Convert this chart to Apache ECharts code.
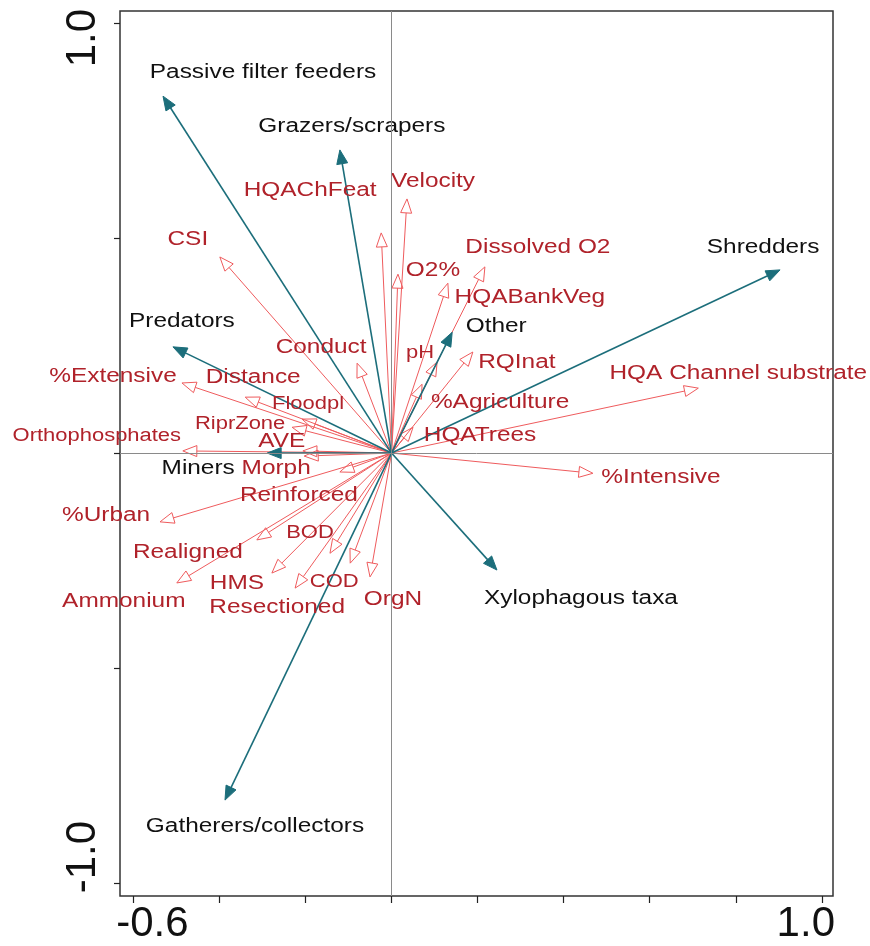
<!DOCTYPE html>
<html>
<head>
<meta charset="utf-8">
<script src="https://cdn.jsdelivr.net/npm/echarts@6/dist/echarts.min.js"></script>
<style>
html,body{margin:0;padding:0;background:#fff;}
#chart{width:870px;height:946px;}
</style>
</head>
<body>
<div id="chart"></div>
<script>
// ---- Data ----
var speciesNames = ['Passive filter feeders','Grazers/scrapers','Shredders','Predators','Other','Miners','Xylophagous taxa','Gatherers/collectors'];
var speciesX = [-0.531, -0.120, 0.903, -0.508, 0.141, -0.289, 0.245, -0.387];
var speciesY = [ 0.830,  0.705, 0.426,  0.247, 0.281,  0.000, -0.272, -0.807];

var envNames = ['Velocity','HQAChFeat','CSI','Dissolved O2','O2%','HQABankVeg','Conduct','pH','RQInat','%Agriculture','HQATrees','HQA Channel substrate','%Intensive','%Extensive','Distance','Floodpl','RiprZone','Orthophosphates','AVE','Morph','Reinforced','%Urban','Realigned','BOD','Ammonium','HMS','COD','Resectioned','OrgN'];
var envX = [0.036, -0.024, -0.399, 0.217, 0.015, 0.131, -0.080, 0.106, 0.189, 0.071, 0.050, 0.713, 0.468, -0.487, -0.340, -0.208, -0.231, -0.485, -0.206, -0.203, -0.120, -0.538, -0.313, -0.143, -0.499, -0.278, -0.096, -0.224, -0.050];
var envY = [0.591, 0.512, 0.456, 0.433, 0.416, 0.395, 0.209, 0.212, 0.235, 0.160, 0.060, 0.151, -0.047, 0.163, 0.130, 0.079, 0.060, 0.005, 0.005, -0.007, -0.044, -0.160, -0.202, -0.233, -0.302, -0.279, -0.256, -0.314, -0.288];

var xTickValues = [-0.6, -0.4, -0.2, 0, 0.2, 0.4, 0.6, 0.8, 1.0];
var yTickValues = [-1.0, -0.5, 0, 0.5, 1.0];
var xLabelValues = [-0.6, 1.0];
var xLabelTexts = ['-0.6', '1.0'];
var yLabelValues = [-1.0, 1.0];
var yLabelTexts = ['-1.0', '1.0'];

// ---- Label placement (pixel offsets from arrow tips) ----
var speciesOffset = {
  'Passive filter feeders':[100,-24], 'Grazers/scrapers':[12,-23], 'Shredders':[-17,-22],
  'Predators':[9,-25], 'Other':[44,-6], 'Miners':[-69,15], 'Xylophagous taxa':[84,28],
  'Gatherers/collectors':[30,26]
};
var envOffset = {
  'Velocity':[26,-17], 'HQAChFeat':[-71,-42], 'CSI':[-32,-17], 'Dissolved O2':[53,-19],
  'O2%':[35,-4], 'HQABankVeg':[82,14], 'Conduct':[-36,-16], 'pH':[-17,-9], 'RQInat':[44,10],
  '%Agriculture':[78,18], 'HQATrees':[67,8], 'HQA Channel substrate':[40,-15], '%Intensive':[68,4],
  '%Extensive':[-69,-6], 'Distance':[8,-20], 'Floodpl':[6,-15], 'RiprZone':[-52,-3],
  'Orthophosphates':[-86,-15], 'AVE':[-21,-9], 'Morph':[-28,12], 'Reinforced':[-41,23],
  '%Urban':[-54,-6], 'Realigned':[-69,13], 'BOD':[-20,-20], 'Ammonium':[-53,19], 'HMS':[-35,10],
  'COD':[-16,19], 'Resectioned':[-18,19], 'OrgN':[23,23]
};
var smallLabels = {'Floodpl':1,'RiprZone':1,'Orthophosphates':1,'BOD':1,'COD':1,'pH':1};

var BLUE = '#1c6e7b';
var RED_LINE = '#ef5b5d';
var RED_TEXT = '#b0222a';
var FONT = '"Liberation Sans", Arial, sans-serif';
var AXIS_FONT = '"Liberation Sans Narrow", "Liberation Sans", Arial, sans-serif';
var AXIS_SIZE = 42;

function pairs(xs, ys) { return xs.map(function (v, i) { return [v, ys[i]]; }); }

function arrowRenderer(filled, color, lw, headLen, headW) {
  return function (params, api) {
    var o = api.coord([0, 0]);
    var t = api.coord([api.value(0), api.value(1)]);
    var dx = t[0] - o[0], dy = t[1] - o[1];
    var len = Math.sqrt(dx * dx + dy * dy) || 1;
    var ux = dx / len, uy = dy / len;
    var bx = t[0] - ux * headLen, by = t[1] - uy * headLen;
    var p1 = [bx - uy * headW, by + ux * headW];
    var p2 = [bx + uy * headW, by - ux * headW];
    return {
      type: 'group',
      children: [
        { type: 'line', shape: { x1: o[0], y1: o[1], x2: filled ? bx + ux * 2 : bx, y2: filled ? by + uy * 2 : by },
          style: { stroke: color, lineWidth: lw } },
        { type: 'polygon', shape: { points: [t, p1, p2] },
          style: { fill: filled ? color : 'rgba(255,255,255,0)', stroke: color, lineWidth: 1 } }
      ]
    };
  };
}

function labelRenderer(names, offsets, color) {
  return function (params, api) {
    var name = names[params.dataIndex];
    var t = api.coord([api.value(0), api.value(1)]);
    var off = offsets[name] || [0, 0];
    var small = smallLabels[name];
    return {
      type: 'text',
      x: t[0] + off[0],
      y: t[1] + off[1],
      scaleX: 1.22,
      style: {
        text: name,
        fill: color,
        font: (small ? '18px ' : '20px ') + FONT,
        align: 'center',
        verticalAlign: 'middle'
      }
    };
  };
}

var chart = echarts.init(document.getElementById('chart'), null, { renderer: 'canvas' });

var option = {
  animation: false,
  backgroundColor: '#ffffff',
  grid: { left: 120, right: 37, top: 11, bottom: 50, show: true, borderColor: '#333', borderWidth: 1.5, backgroundColor: 'transparent' },
  xAxis: {
    type: 'value', min: -0.631, max: 1.026,
    axisLine: { show: false, onZero: false },
    splitLine: { show: false },
    axisTick: { show: true, inside: false, length: 7, customValues: xTickValues, lineStyle: { color: '#222', width: 1.2 } },
    axisLabel: {
      show: true, margin: 7, customValues: xLabelValues,
      fontFamily: AXIS_FONT, fontSize: AXIS_SIZE, color: '#111',
      formatter: function (v) { return Math.abs(v + 0.6) < 1e-6 ? '{a|' + xLabelTexts[0] + '}' : '{b|' + xLabelTexts[1] + '}'; },
      rich: {
        a: { fontFamily: AXIS_FONT, fontSize: AXIS_SIZE, color: '#111', padding: [0, 0, 0, 38] },
        b: { fontFamily: AXIS_FONT, fontSize: AXIS_SIZE, color: '#111', padding: [0, 32, 0, 0] }
      }
    }
  },
  yAxis: {
    type: 'value', min: -1.03, max: 1.028,
    axisLine: { show: false, onZero: false },
    splitLine: { show: false },
    axisTick: { show: true, inside: false, length: 6, customValues: yTickValues, lineStyle: { color: '#222', width: 1.2 } },
    axisLabel: {
      show: true, margin: 16, rotate: 90, customValues: yLabelValues,
      fontFamily: AXIS_FONT, fontSize: AXIS_SIZE, color: '#111',
      formatter: function (v) { return v < 0 ? '{a|' + yLabelTexts[0] + '}' : '{b|' + yLabelTexts[1] + '}'; },
      rich: {
        a: { fontFamily: AXIS_FONT, fontSize: AXIS_SIZE, color: '#111', padding: [0, 0, 0, 52] },
        b: { fontFamily: AXIS_FONT, fontSize: AXIS_SIZE, color: '#111', padding: [0, 30, 0, 0] }
      }
    }
  },
  series: [
    {
      type: 'custom', name: 'env', clip: false, z: 2,
      data: pairs(envX, envY),
      renderItem: arrowRenderer(false, RED_LINE, 1, 14, 5.5),
      markLine: {
        silent: true, symbol: 'none', animation: false,
        label: { show: false },
        lineStyle: { color: '#8a8a8a', type: 'solid', width: 1 },
        data: [{ xAxis: 0 }, { yAxis: 0 }]
      }
    },
    {
      type: 'custom', name: 'species', clip: false, z: 3,
      data: pairs(speciesX, speciesY),
      renderItem: arrowRenderer(true, BLUE, 1.6, 14, 5.5)
    },
    {
      type: 'custom', name: 'envLabels', clip: false, z: 4,
      data: pairs(envX, envY),
      renderItem: labelRenderer(envNames, envOffset, RED_TEXT)
    },
    {
      type: 'custom', name: 'speciesLabels', clip: false, z: 4,
      data: pairs(speciesX, speciesY),
      renderItem: labelRenderer(speciesNames, speciesOffset, '#111')
    }
  ]
};
chart.setOption(option);
</script>
</body>
</html>
